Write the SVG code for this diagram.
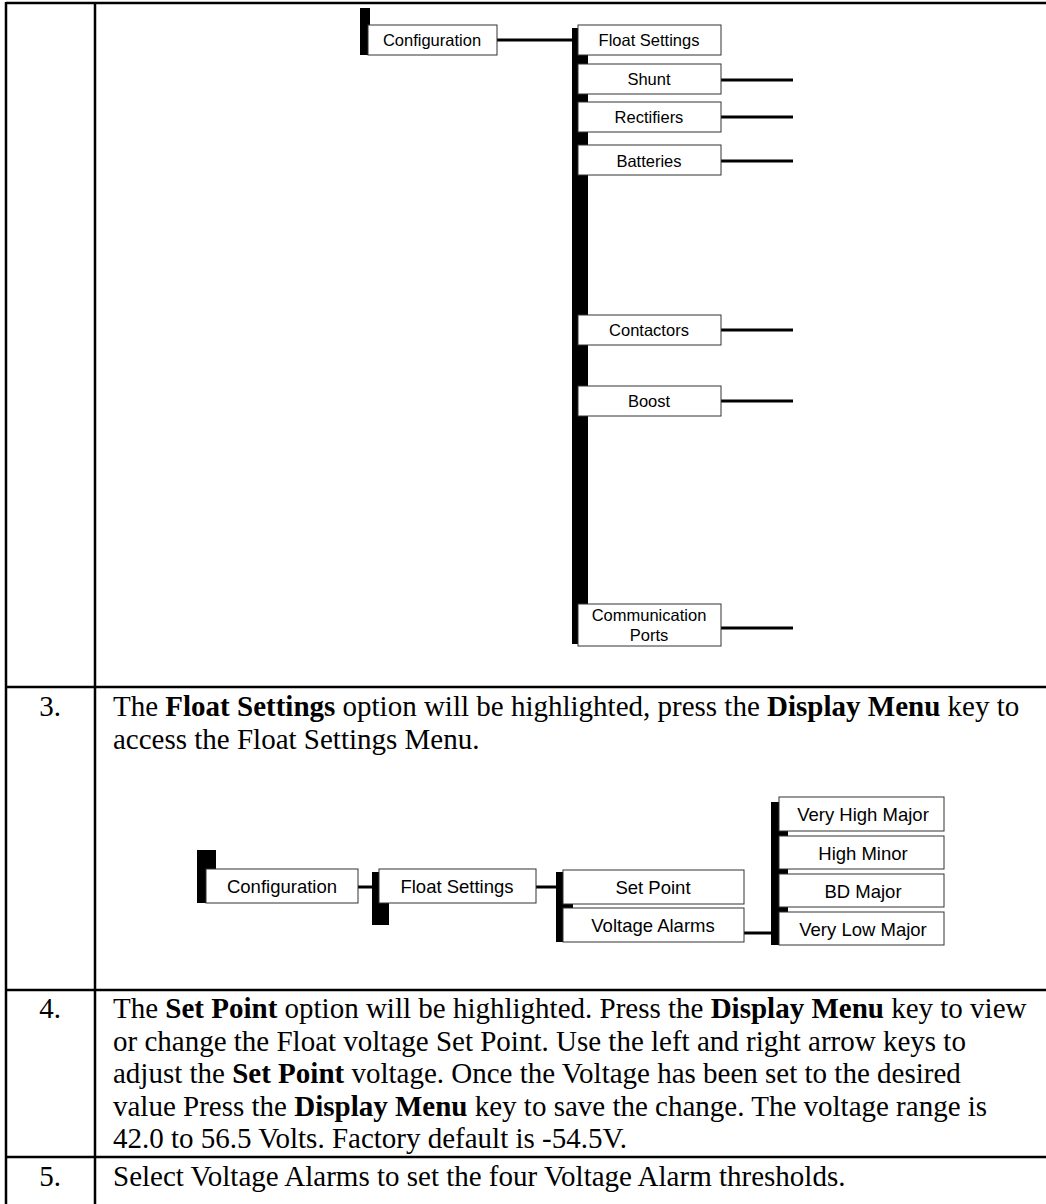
<svg xmlns="http://www.w3.org/2000/svg" width="1046" height="1204" viewBox="0 0 1046 1204">
  <style>
    .grid { stroke: #000; stroke-width: 2.5; fill: none; }
    .bar { fill: #000; }
    .box { fill: #fff; stroke: #333; stroke-width: 1; }
    .wire { stroke: #000; stroke-width: 3; fill: none; }
    .lbl { font-family: "Liberation Sans", Arial, sans-serif; font-size: 16.5px; fill: #000; text-anchor: middle; dominant-baseline: central; }
    .lbl2 { font-family: "Liberation Sans", Arial, sans-serif; font-size: 18.5px; fill: #000; text-anchor: middle; dominant-baseline: central; }
    .body { font-family: "Liberation Serif", "Times New Roman", serif; font-size: 29px; fill: #000; }
    .num { font-family: "Liberation Serif", "Times New Roman", serif; font-size: 29px; fill: #000; text-anchor: middle; }
    .b { font-weight: bold; }
  </style>

  <!-- table frame -->
  <g id="table">
    <line class="grid" x1="6" y1="3" x2="1046" y2="3"/>
    <line class="grid" x1="6" y1="2" x2="6" y2="1204"/>
    <line class="grid" x1="95" y1="2" x2="95" y2="1204"/>
    <line class="grid" x1="6" y1="687" x2="1046" y2="687"/>
    <line class="grid" x1="6" y1="990" x2="1046" y2="990"/>
    <line class="grid" x1="6" y1="1157" x2="1046" y2="1157"/>
  </g>

  <!-- upper menu tree: connectors -->
  <g id="connectors-top">
    <line class="wire" x1="497" y1="40" x2="575" y2="40"/>
    <line class="wire" x1="721" y1="80" x2="793" y2="80"/>
    <line class="wire" x1="721" y1="117" x2="793" y2="117"/>
    <line class="wire" x1="721" y1="161" x2="793" y2="161"/>
    <line class="wire" x1="721" y1="330" x2="793" y2="330"/>
    <line class="wire" x1="721" y1="401" x2="793" y2="401"/>
    <line class="wire" x1="721" y1="628" x2="793" y2="628"/>
  </g>

  <g id="top-config">
    <rect class="bar" x="360" y="8" width="10" height="47"/>
    <rect class="box" x="368" y="25" width="129" height="30"/>
    <text class="lbl" x="432" y="40">Configuration</text>
  </g>

  <g id="top-submenu-bar">
    <rect class="bar" x="572" y="28" width="16" height="616"/>
  </g>

  <g id="top-float">
    <rect class="box" x="578" y="25" width="143" height="30"/>
    <text class="lbl" x="649" y="40">Float Settings</text>
  </g>
  <g id="top-shunt">
    <rect class="box" x="578" y="64" width="143" height="30"/>
    <text class="lbl" x="649" y="79">Shunt</text>
  </g>
  <g id="top-rectifiers">
    <rect class="box" x="578" y="102" width="143" height="30"/>
    <text class="lbl" x="649" y="117">Rectifiers</text>
  </g>
  <g id="top-batteries">
    <rect class="box" x="578" y="145" width="143" height="30"/>
    <text class="lbl" x="649" y="161">Batteries</text>
  </g>
  <g id="top-contactors">
    <rect class="box" x="578" y="315" width="143" height="30"/>
    <text class="lbl" x="649" y="330">Contactors</text>
  </g>
  <g id="top-boost">
    <rect class="box" x="578" y="386" width="143" height="30"/>
    <text class="lbl" x="649" y="401">Boost</text>
  </g>
  <g id="top-comm">
    <rect class="box" x="578" y="604" width="143" height="42"/>
    <text class="lbl" x="649" y="615">Communication</text>
    <text class="lbl" x="649" y="635">Ports</text>
  </g>

  <!-- step 3 -->
  <g id="step3-text">
    <text class="num" x="50" y="716">3.</text>
    <text class="body" x="113" y="716">The <tspan class="b">Float Settings</tspan> option will be highlighted, press the <tspan class="b">Display Menu</tspan> key to</text>
    <text class="body" x="113" y="749">access the Float Settings Menu.</text>
  </g>

  <!-- lower menu tree: connectors -->
  <g id="connectors-bottom">
    <line class="wire" x1="358" y1="887" x2="375" y2="887"/>
    <line class="wire" x1="536" y1="887" x2="559" y2="887"/>
    <line class="wire" x1="744" y1="933" x2="774" y2="933"/>
  </g>

  <g id="low-config">
    <rect class="bar" x="197" y="850" width="19" height="53"/>
    <rect class="box" x="206" y="869" width="152" height="34"/>
    <text class="lbl2" x="282" y="886">Configuration</text>
  </g>
  <g id="low-float">
    <rect class="bar" x="372" y="872" width="17" height="53"/>
    <rect class="box" x="379" y="869" width="157" height="34"/>
    <text class="lbl2" x="457" y="886">Float Settings</text>
  </g>
  <g id="low-setpoint-bar">
    <rect class="bar" x="556" y="872" width="17" height="70"/>
  </g>
  <g id="low-setpoint">
    <rect class="box" x="563" y="870" width="181" height="34"/>
    <text class="lbl2" x="653" y="887">Set Point</text>
  </g>
  <g id="low-alarms">
    <rect class="box" x="563" y="908" width="181" height="34"/>
    <text class="lbl2" x="653" y="925">Voltage Alarms</text>
  </g>
  <g id="low-alarm-bar">
    <rect class="bar" x="771" y="802" width="17" height="143"/>
  </g>
  <g id="low-vhm">
    <rect class="box" x="779" y="797" width="165" height="34"/>
    <text class="lbl2" x="863" y="814">Very High Major</text>
  </g>
  <g id="low-hm">
    <rect class="box" x="779" y="836" width="165" height="33"/>
    <text class="lbl2" x="863" y="853">High Minor</text>
  </g>
  <g id="low-bd">
    <rect class="box" x="779" y="874" width="165" height="33"/>
    <text class="lbl2" x="863" y="891">BD Major</text>
  </g>
  <g id="low-vlm">
    <rect class="box" x="779" y="912" width="165" height="33"/>
    <text class="lbl2" x="863" y="929">Very Low Major</text>
  </g>

  <!-- step 4 -->
  <g id="step4-text">
    <text class="num" x="50" y="1018">4.</text>
    <text class="body" x="113" y="1018">The <tspan class="b">Set Point</tspan> option will be highlighted. Press the <tspan class="b">Display Menu</tspan> key to view</text>
    <text class="body" x="113" y="1050.5">or change the Float voltage Set Point. Use the left and right arrow keys to</text>
    <text class="body" x="113" y="1083">adjust the <tspan class="b">Set Point</tspan> voltage. Once the Voltage has been set to the desired</text>
    <text class="body" x="113" y="1115.5">value Press the <tspan class="b">Display Menu</tspan> key to save the change.  The voltage range is</text>
    <text class="body" x="113" y="1148">42.0 to 56.5 Volts. Factory default is -54.5V.</text>
  </g>

  <!-- step 5 -->
  <g id="step5-text">
    <text class="num" x="50" y="1186">5.</text>
    <text class="body" x="113" y="1186">Select Voltage Alarms to set the four Voltage Alarm thresholds.</text>
  </g>
</svg>
